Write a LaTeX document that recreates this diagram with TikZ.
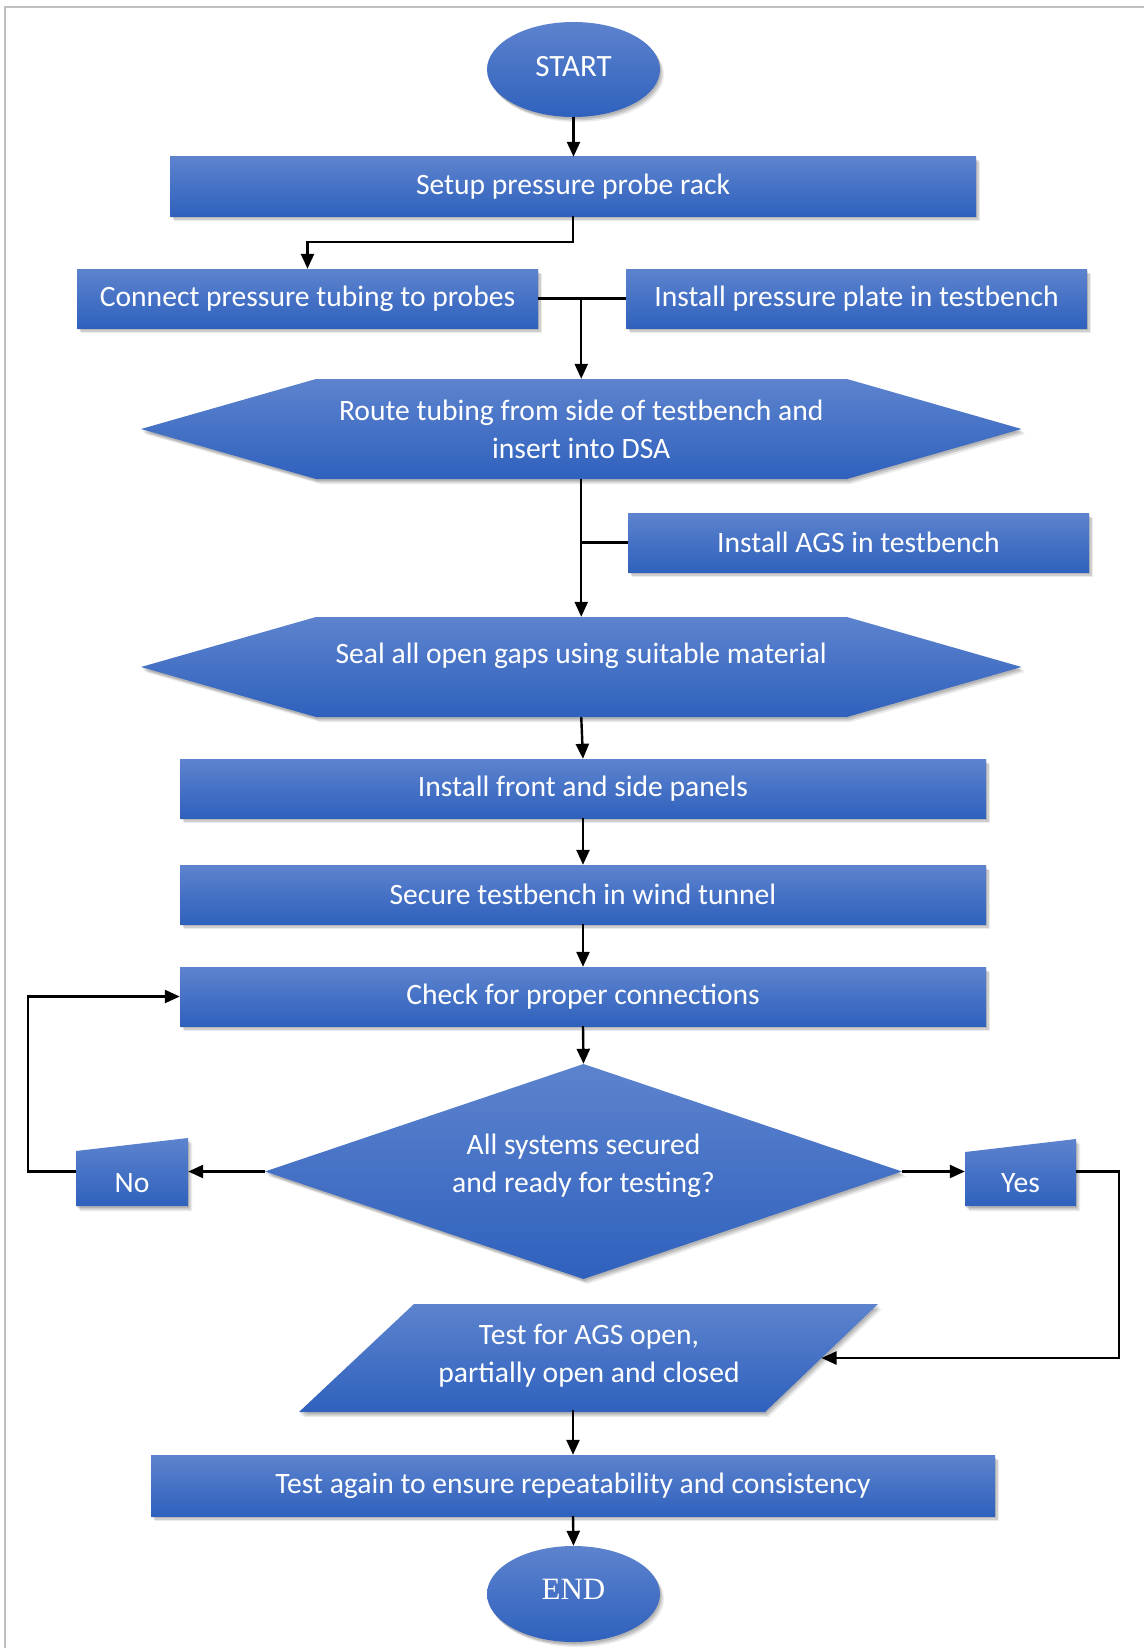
\documentclass[tikz,border=0pt]{standalone}
\usepackage{fontspec}
\setmainfont{Carlito}
\newfontfamily\serifend{Liberation Serif}
\usetikzlibrary{arrows.meta,shapes.geometric,shadows,calc}
\definecolor{cTop}{RGB}{93,131,206}
\definecolor{cBot}{RGB}{47,97,189}
\definecolor{frameC}{RGB}{192,192,192}
\tikzset{
  fillgrad/.style={top color=cTop, bottom color=cBot, draw=none},
  shade3/.style={
    drop shadow={shadow xshift=1pt,shadow yshift=-2pt,opacity=0.12,fill=black},
    drop shadow={shadow xshift=2.5pt,shadow yshift=-3.5pt,opacity=0.12,fill=black},
    drop shadow={shadow xshift=4pt,shadow yshift=-5pt,opacity=0.08,fill=black}},
  txt/.style={text=white, font=\fontsize{29.6}{38}\selectfont, align=center, inner sep=0pt},
  box/.style={rectangle, fillgrad, shade3, txt, minimum height=59pt},
  oval/.style={ellipse, fillgrad, shade3, txt, minimum width=173pt, minimum height=95pt},
  conn/.style={line width=2.4pt, draw=black},
  arr/.style={conn, -{Triangle[length=15pt,width=13pt]}},
}
\begin{document}
\begin{tikzpicture}[x=1pt,y=-1pt]
\useasboundingbox (0,0) rectangle (1144,1648);
\fill[white] (0,0) rectangle (1144,1648);
% frame
\draw[frameC, line width=1.6pt] (5,1648) -- (5,7) -- (1144,7);

% non-rectangular shapes
\path[fillgrad, shade3] (141,429) -- (316,379) -- (847,379) -- (1021.5,429) -- (847,479) -- (316,479) -- cycle;
\path[fillgrad, shade3] (141,667) -- (316,617) -- (847,617) -- (1021.5,667) -- (847,717) -- (316,717) -- cycle;
\path[fillgrad, shade3] (583.5,1064) -- (902,1171.5) -- (583.5,1279) -- (265,1171.5) -- cycle;
\path[fillgrad, shade3] (76,1151) -- (188,1138) -- (188,1206) -- (76,1206) -- cycle;
\path[fillgrad, shade3] (965,1152) -- (1076,1139) -- (1076,1206) -- (965,1206) -- cycle;
\path[fillgrad, shade3] (414,1304) -- (878,1304) -- (765,1412) -- (299,1412) -- cycle;

% nodes
\node[oval, font=\fontsize{31}{36}\selectfont] (start) at (573.5,69.5) {\raisebox{6pt}{START}};
\node[box, minimum width=806pt] (setup) at (573,186.5) {Setup pressure probe rack};
\node[box, minimum width=461pt] (connect) at (307.5,298.5) {Connect pressure tubing to probes};
\node[box, minimum width=461pt] (plate) at (856.5,298.5) {Install pressure plate in testbench};
\node[txt, minimum width=880.5pt, minimum height=100pt] (route) at (581.25,429) {Route tubing from side of testbench and\\insert into DSA};
\node[box, minimum width=461pt] (ags) at (858.5,542.5) {Install AGS in testbench};
\node[inner sep=0pt, minimum width=880.5pt, minimum height=100pt] (seal) at (581.25,667) {};
\node[txt] (sealtxt) at (581.25,656) {Seal all open gaps using suitable material};
\node[box, minimum width=806pt] (front) at (583,788.5) {Install front and side panels};
\node[box, minimum width=806pt] (secure) at (583,894.5) {Secure testbench in wind tunnel};
\node[box, minimum width=806pt] (check) at (583,996.5) {Check for proper connections};
\node[inner sep=0pt, minimum width=637pt, minimum height=215pt] (dec) at (583.5,1171.5) {};
\node[txt] (dectxt) at (583.5,1166) {All systems secured\\and ready for testing?};
\node[txt, minimum width=112pt, minimum height=46pt] (no) at (132,1183) {No};
\node[txt, minimum width=111pt, minimum height=46pt] (yes) at (1020.5,1183) {Yes};
\node[txt, minimum width=464pt, minimum height=108pt] (para) at (589,1356) {Test for AGS open,\\partially open and closed};
\coordinate (paraE) at (821.5,1358);
\node[box, minimum width=844pt, minimum height=61pt] (again) at (573,1485.5) {Test again to ensure repeatability and consistency};
\node[oval, minimum height=96pt, font=\serifend\fontsize{31}{36}\selectfont] (end) at (573.5,1594) {\raisebox{10pt}{END}};

% connectors
\draw[arr] (start.south) -- (start.south |- setup.north);
\draw[arr] (setup.south) -- ++(0,26) -| (connect.north);
\draw[conn] (connect.east) -- (plate.west);
\draw[arr] (connect.east -| route.north) -- (route.north);
\draw[arr] (route.south) -- (seal.north);
\draw[conn] (ags.west) -- (ags.west -| seal.north);
\draw[arr] (seal.south) -- (front.north);
\draw[arr] (front.south) -- (secure.north);
\draw[arr] (secure.south) -- (check.north);
\draw[arr] (check.south) -- (dec.north);
\draw[arr] (dec.west) -- (dec.west -| no.east);
\draw[arr] (dec.east) -- (dec.east -| yes.west);
\draw[arr] (dec.west -| no.west) -- ++(-48,0) |- (check.west);
\draw[arr] (dec.east -| yes.east) -- ++(43,0) |- (paraE);
\draw[arr] (again.north |- para.south) -- (again.north);
\draw[arr] (again.south) -- (end.north);
\end{tikzpicture}
\end{document}
